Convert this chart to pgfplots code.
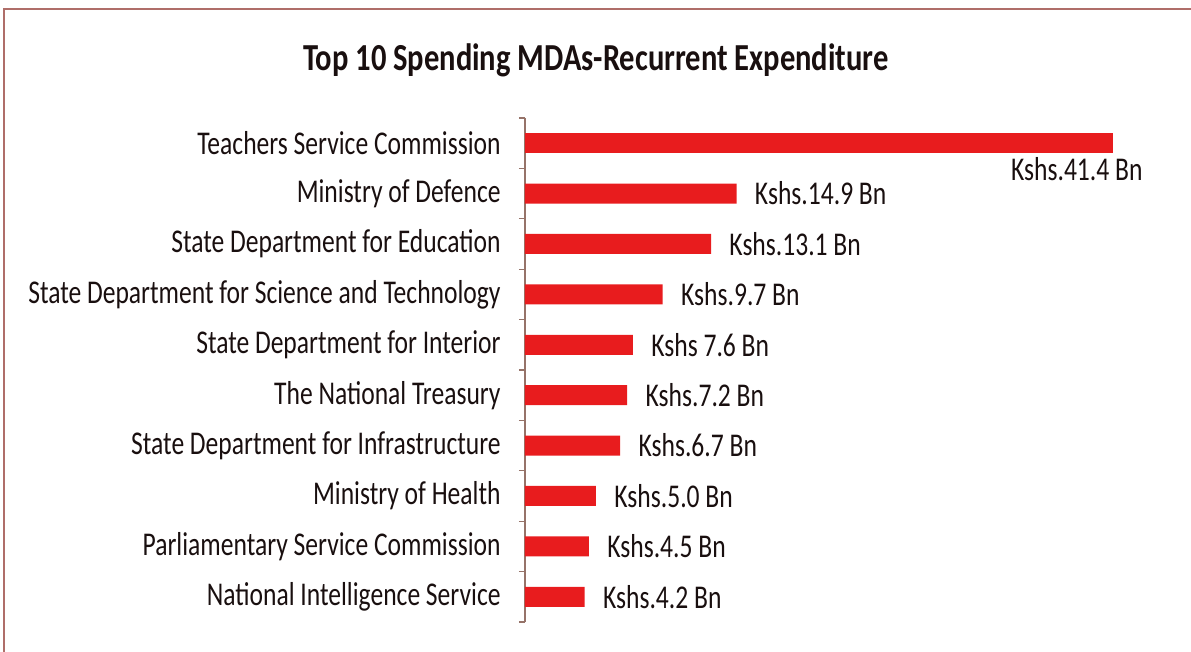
\documentclass[border=0pt]{standalone}
\usepackage{pgfplots}
\pgfplotsset{compat=1.18}
\usepackage{fontspec}
\setmainfont{Carlito}
\newfontfamily\cf[FakeStretch=0.77]{Carlito}
\newfontfamily\tf[FakeStretch=0.8]{Carlito}
\definecolor{barred}{RGB}{232,28,30}
\definecolor{framec}{RGB}{175,110,105}
\definecolor{axisc}{RGB}{150,115,105}
\definecolor{txt}{RGB}{25,15,15}
\begin{document}
\begin{tikzpicture}[x=0.5pt,y=0.5pt]
\useasboundingbox (0,0) rectangle (1191,652);
\draw[framec, line width=0.8pt] (4,643) rectangle (1200,-10);
\node[font=\tf\bfseries\fontsize{19.1}{22}\selectfont, text=txt] at (596,592) {Top 10 Spending MDAs-Recurrent Expenditure};
\begin{axis}[
  at={(262.5pt,15pt)}, anchor=south west,
  scale only axis, width=319.5pt, height=252pt,
  xbar, bar width=10pt,
  xmin=0, xmax=45, ymin=-0.5, ymax=9.5, y dir=reverse,
  axis x line=none, axis y line*=left,
  axis line style={axisc, line width=0.6pt, -},
  ytick={0,...,9},
  yticklabels={Teachers Service Commission, Ministry of Defence, State Department for Education, State Department for Science and Technology, State Department for Interior, The National Treasury, State Department for Infrastructure, Ministry of Health, Parliamentary Service Commission, National Intelligence Service},
  major tick length=0pt,
  minor ytick={-0.5,0.5,...,9.5},
  minor tick length=3pt, tick align=outside,
  minor tick style={axisc, line width=0.6pt},
  yticklabel style={font=\cf\fontsize{16.6}{19}\selectfont, text=txt, inner sep=0pt, xshift=-12pt},
  point meta=explicit symbolic,
  nodes near coords,
  every node near coord/.append style={font=\cf\fontsize{16.6}{19}\selectfont, text=txt, inner sep=0pt},
]
\addplot[fill=barred, draw=none, bar shift=0pt,
  every node near coord/.append style={anchor=north east, xshift=15pt, yshift=-7pt}]
  coordinates {(41.4,0) [Kshs.41.4 Bn]};
\addplot[fill=barred, draw=none, bar shift=0pt,
  every node near coord/.append style={anchor=west, xshift=9pt}]
  coordinates {
  (14.9,1) [Kshs.14.9 Bn]
  (13.1,2) [Kshs.13.1 Bn]
  (9.7,3) [Kshs.9.7 Bn]
  (7.6,4) [Kshs 7.6 Bn]
  (7.2,5) [Kshs.7.2 Bn]
  (6.7,6) [Kshs.6.7 Bn]
  (5.0,7) [Kshs.5.0 Bn]
  (4.5,8) [Kshs.4.5 Bn]
  (4.2,9) [Kshs.4.2 Bn]
  };
\end{axis}
\end{tikzpicture}
\end{document}
